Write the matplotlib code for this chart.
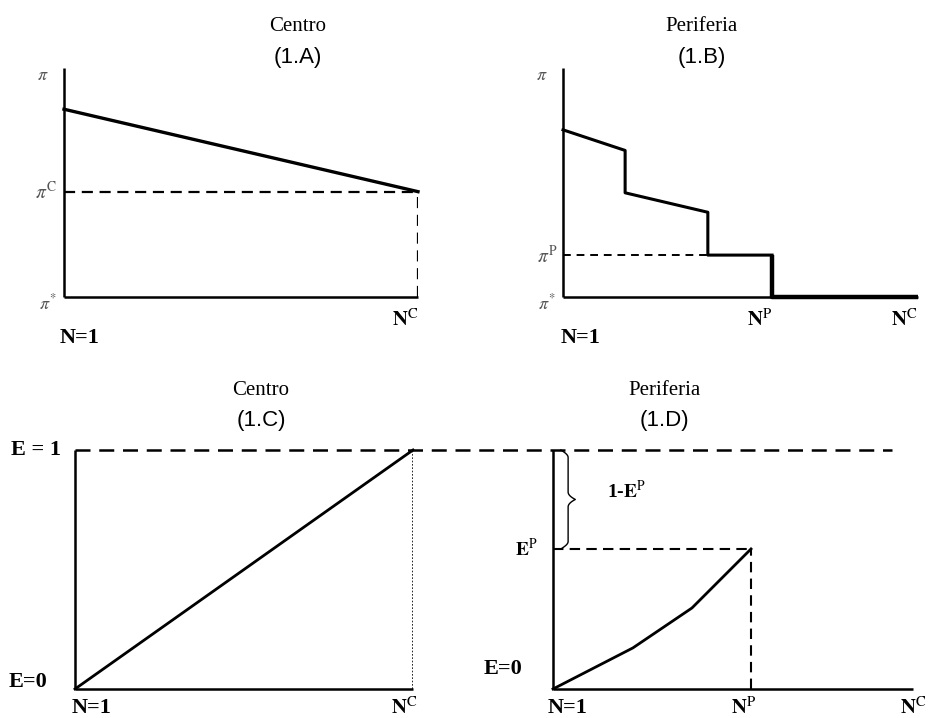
import numpy as np
import matplotlib
matplotlib.use("Agg")
import matplotlib.pyplot as plt

plt.rcParams["mathtext.fontset"] = "stix"

# panel A: centro, profit line from N=1 to N^C
a_n = [0.0, 1.0]
a_pi = [0.82, 0.46]
a_pic = 0.46

# panel B: periferia, step-wise profit
b_n = [0.0, 0.175, 0.175, 0.408, 0.408, 0.589, 0.589, 1.0]
b_pi = [0.73, 0.64, 0.455, 0.37, 0.183, 0.183, 0.0, 0.0]
b_pip = 0.183
b_np = 0.589

# panel C: centro, employment line
c_n = [0.0, 1.0]
c_e = [0.0, 1.0]

# panel D: periferia, employment curve
d_n = [0.0, 0.222, 0.386, 0.55]
d_e = [0.0, 0.172, 0.339, 0.586]
d_ep = 0.586
d_np = 0.55

W, H = 938, 718
fig = plt.figure(figsize=(W / 100, H / 100), dpi=100)

SERIF = "Liberation Serif"
SANS = "Liberation Sans"


def make_ax(left, top, right, bottom):
    # pixel box -> figure fraction
    ax = fig.add_axes([left / W, 1 - bottom / H, (right - left) / W, (bottom - top) / H])
    ax.set_xlim(0, 1)
    ax.set_ylim(0, 1)
    ax.axis("off")
    return ax


def axes_lines(ax, xend=1.0, lw=1.8):
    ax.plot([0, 0], [0, 1], color="black", lw=lw, clip_on=False, solid_capstyle="butt")
    ax.plot([0, xend], [0, 0], color="black", lw=lw, clip_on=False, solid_capstyle="butt")


def brace(ax, x, y0, y1, w):
    # curly brace, tip pointing right
    t = np.linspace(0, 1, 60)
    half = (y1 - y0) / 2
    xs, ys = [], []
    for tt in t:
        ys.append(y0 + tt * half)
        xs.append(x + w * 0.5 * np.sin(np.pi * min(tt / 0.15, 1) / 2) + w * 0.5 * max(0, (tt - 0.85) / 0.15) ** 2)
    for tt in t[::-1]:
        ys.append(y1 - tt * half)
        xs.append(x + w * 0.5 * np.sin(np.pi * min(tt / 0.15, 1) / 2) + w * 0.5 * max(0, (tt - 0.85) / 0.15) ** 2)
    ax.plot(xs, ys, color="black", lw=1.0, clip_on=False)


def lab(ax, x, y, s, size=16):
    ax.text(x, y, s, fontsize=size, family=SERIF, fontweight="bold", ha="center", va="center")


def pi_lab(ax, x, y, s, size=13):
    ax.text(x, y, s, fontsize=size, color="#555555", ha="center", va="center")


def title(ax, x, y1, y2, name, tag):
    ax.text(x, y1, name, fontsize=15, family=SERIF, ha="center", va="center")
    ax.text(x, y2, tag, fontsize=16, family=SANS, ha="center", va="center")


NC = r"$\mathbf{N}^{\mathrm{C}}$"
NP = r"$\mathbf{N}^{\mathrm{P}}$"
EP = r"$\mathbf{E}^{\mathrm{P}}$"

# ---------------- panel A ----------------
axA = make_ax(64, 68, 418, 297)
axes_lines(axA)
axA.plot(a_n, a_pi, color="black", lw=2.4, clip_on=False)
axA.plot([0, 1], [a_pic, a_pic], color="black", lw=1.6, ls=(0, (5, 3)))
axA.plot([1, 1], [0, a_pic], color="black", lw=1.6, ls=(0, (5, 3)))
pi_lab(axA, -0.06, 0.97, r"$\pi$")
pi_lab(axA, -0.05, 0.46, r"$\pi^{\mathrm{C}}$", 14)
pi_lab(axA, -0.045, -0.03, r"$\pi^{*}$")
lab(axA, 0.965, -0.1, NC, 15)
lab(axA, 0.045, -0.18, "N=1")
title(axA, 0.66, 1.183, 1.044, "Centro", "(1.A)")

# ---------------- panel B ----------------
axB = make_ax(563, 68, 918, 297)
axes_lines(axB)
axB.plot(b_n[:6], b_pi[:6], color="black", lw=2.2, clip_on=False)
axB.plot(b_n[5:], b_pi[5:], color="black", lw=3.2, clip_on=False, solid_capstyle="butt")
axB.plot([0, 0.408], [b_pip, b_pip], color="black", lw=1.4, ls=(0, (4, 3)))
pi_lab(axB, -0.06, 0.97, r"$\pi$")
pi_lab(axB, -0.045, 0.18, r"$\pi^{\mathrm{P}}$", 14)
pi_lab(axB, -0.045, -0.03, r"$\pi^{*}$")
lab(axB, b_np - 0.035, -0.1, NP, 15)
lab(axB, 0.96, -0.1, NC, 15)
lab(axB, 0.05, -0.18, "N=1")
title(axB, 0.39, 1.183, 1.044, "Periferia", "(1.B)")

# ---------------- panel C ----------------
axC = make_ax(75, 450, 413, 689)
axes_lines(axC)
axC.plot(c_n, c_e, color="black", lw=2.0, clip_on=False)
axC.plot([0, (892 - 75) / 338], [1, 1], color="black", lw=1.8, ls=(0, (6, 3.5)), clip_on=False)
axC.plot([1, 1], [0, 1], color="black", lw=1.2, ls=(0, (1, 1)))
lab(axC, -0.115, 1.0, "E = 1")
lab(axC, -0.14, 0.03, "E=0")
lab(axC, 0.05, -0.08, "N=1")
lab(axC, 0.975, -0.08, NC, 15)
title(axC, 0.55, 1.25, 1.125, "Centro", "(1.C)")

# ---------------- panel D ----------------
axD = make_ax(553, 450, 913, 689)
axes_lines(axD)
axD.plot(d_n, d_e, color="black", lw=2.0, clip_on=False)
axD.plot([0, d_np], [d_ep, d_ep], color="black", lw=1.5, ls=(0, (5, 3)))
axD.plot([d_np, d_np], [0, d_ep], color="black", lw=1.5, ls=(0, (5, 3)))
brace(axD, 0.022, d_ep, 1.0, 0.04)
lab(axD, 0.205, 0.83, "1-" + EP, 14)
lab(axD, -0.075, d_ep, EP, 14)
lab(axD, -0.14, 0.085, "E=0")
lab(axD, 0.04, -0.08, "N=1")
lab(axD, d_np - 0.02, -0.08, NP, 15)
lab(axD, 1.0, -0.08, NC, 15)
title(axD, 0.31, 1.25, 1.125, "Periferia", "(1.D)")

fig.savefig("out.png", dpi=100, facecolor="white")
